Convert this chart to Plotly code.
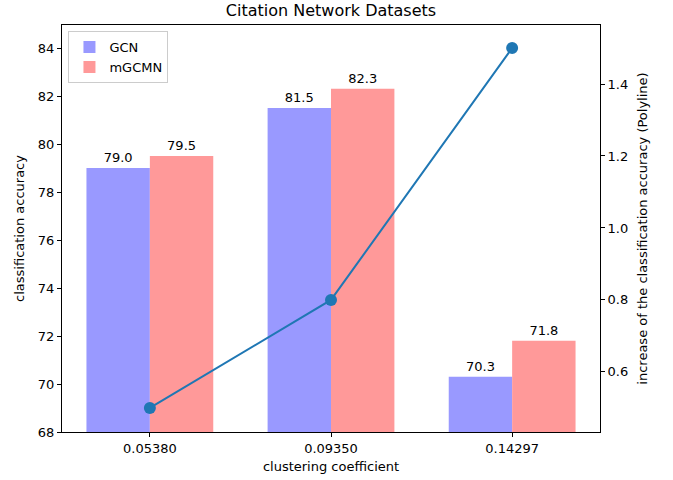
import plotly.graph_objects as go

categories = ["0.05380", "0.09350", "0.14297"]
gcn = [79.0, 81.5, 70.3]
mgcmn = [79.5, 82.3, 71.8]
increase = [0.5, 0.8, 1.5]
left_ticks = [68, 70, 72, 74, 76, 78, 80, 82, 84]
right_ticks = [0.6, 0.8, 1.0, 1.2, 1.4]

idx = list(range(len(categories)))
font = dict(family="DejaVu Sans", size=13, color="black")

fig = go.Figure()
fig.add_trace(go.Bar(
    x=idx, y=gcn, name="GCN", offset=-0.35, width=0.35,
    marker=dict(color="#9999ff", line=dict(width=0)),
    texttemplate="%{y:.1f}", textposition="outside", cliponaxis=False,
    textfont=dict(family="DejaVu Sans", size=13, color="black"),
))
fig.add_trace(go.Bar(
    x=idx, y=mgcmn, name="mGCMN", offset=0, width=0.35,
    marker=dict(color="#ff9999", line=dict(width=0)),
    texttemplate="%{y:.1f}", textposition="outside", cliponaxis=False,
    textfont=dict(family="DejaVu Sans", size=13, color="black"),
))
fig.add_trace(go.Scatter(
    x=idx, y=increase, yaxis="y2", mode="lines+markers", showlegend=False,
    line=dict(color="#1f77b4", width=2), marker=dict(color="#1f77b4", size=12),
))

axis_common = dict(showline=True, linecolor="black", linewidth=1, ticks="outside",
                   ticklen=4, tickcolor="black", showgrid=False, zeroline=False,
                   tickfont=font, automargin=False)

fig.update_layout(
    width=673, height=480,
    margin=dict(l=62, r=73, t=25, b=48),
    plot_bgcolor="white", paper_bgcolor="white",
    font=font,
    title=dict(text="Citation Network Datasets", x=0.4918, xanchor="center",
               y=0.979, yanchor="middle", font=dict(family="DejaVu Sans", size=16, color="black")),
    xaxis=dict(**axis_common, range=[-0.485, 2.485], tickvals=idx, ticktext=categories,
               mirror=True,
               title=dict(text="clustering coefficient", font=font, standoff=7)),
    yaxis=dict(**axis_common, range=[68, 84.96], tickvals=left_ticks, mirror=False,
               title=dict(text="classification accuracy", font=font, standoff=10)),
    yaxis2=dict(**axis_common, overlaying="y", side="right", range=[0.433, 1.564],
                tickvals=right_ticks, tickformat=".1f",
                title=dict(text="increase of the classification accuracy (Polyline)", font=font, standoff=10)),
    legend=dict(x=0.012, y=0.985, xanchor="left", yanchor="top",
                bgcolor="rgba(255,255,255,0.8)", bordercolor="#cccccc", borderwidth=1,
                font=dict(family="DejaVu Sans", size=13, color="black")),
    barmode="overlay",
)

fig.write_html("out.html", config={"displayModeBar": False},
               post_script="document.body.style.margin='0';")
